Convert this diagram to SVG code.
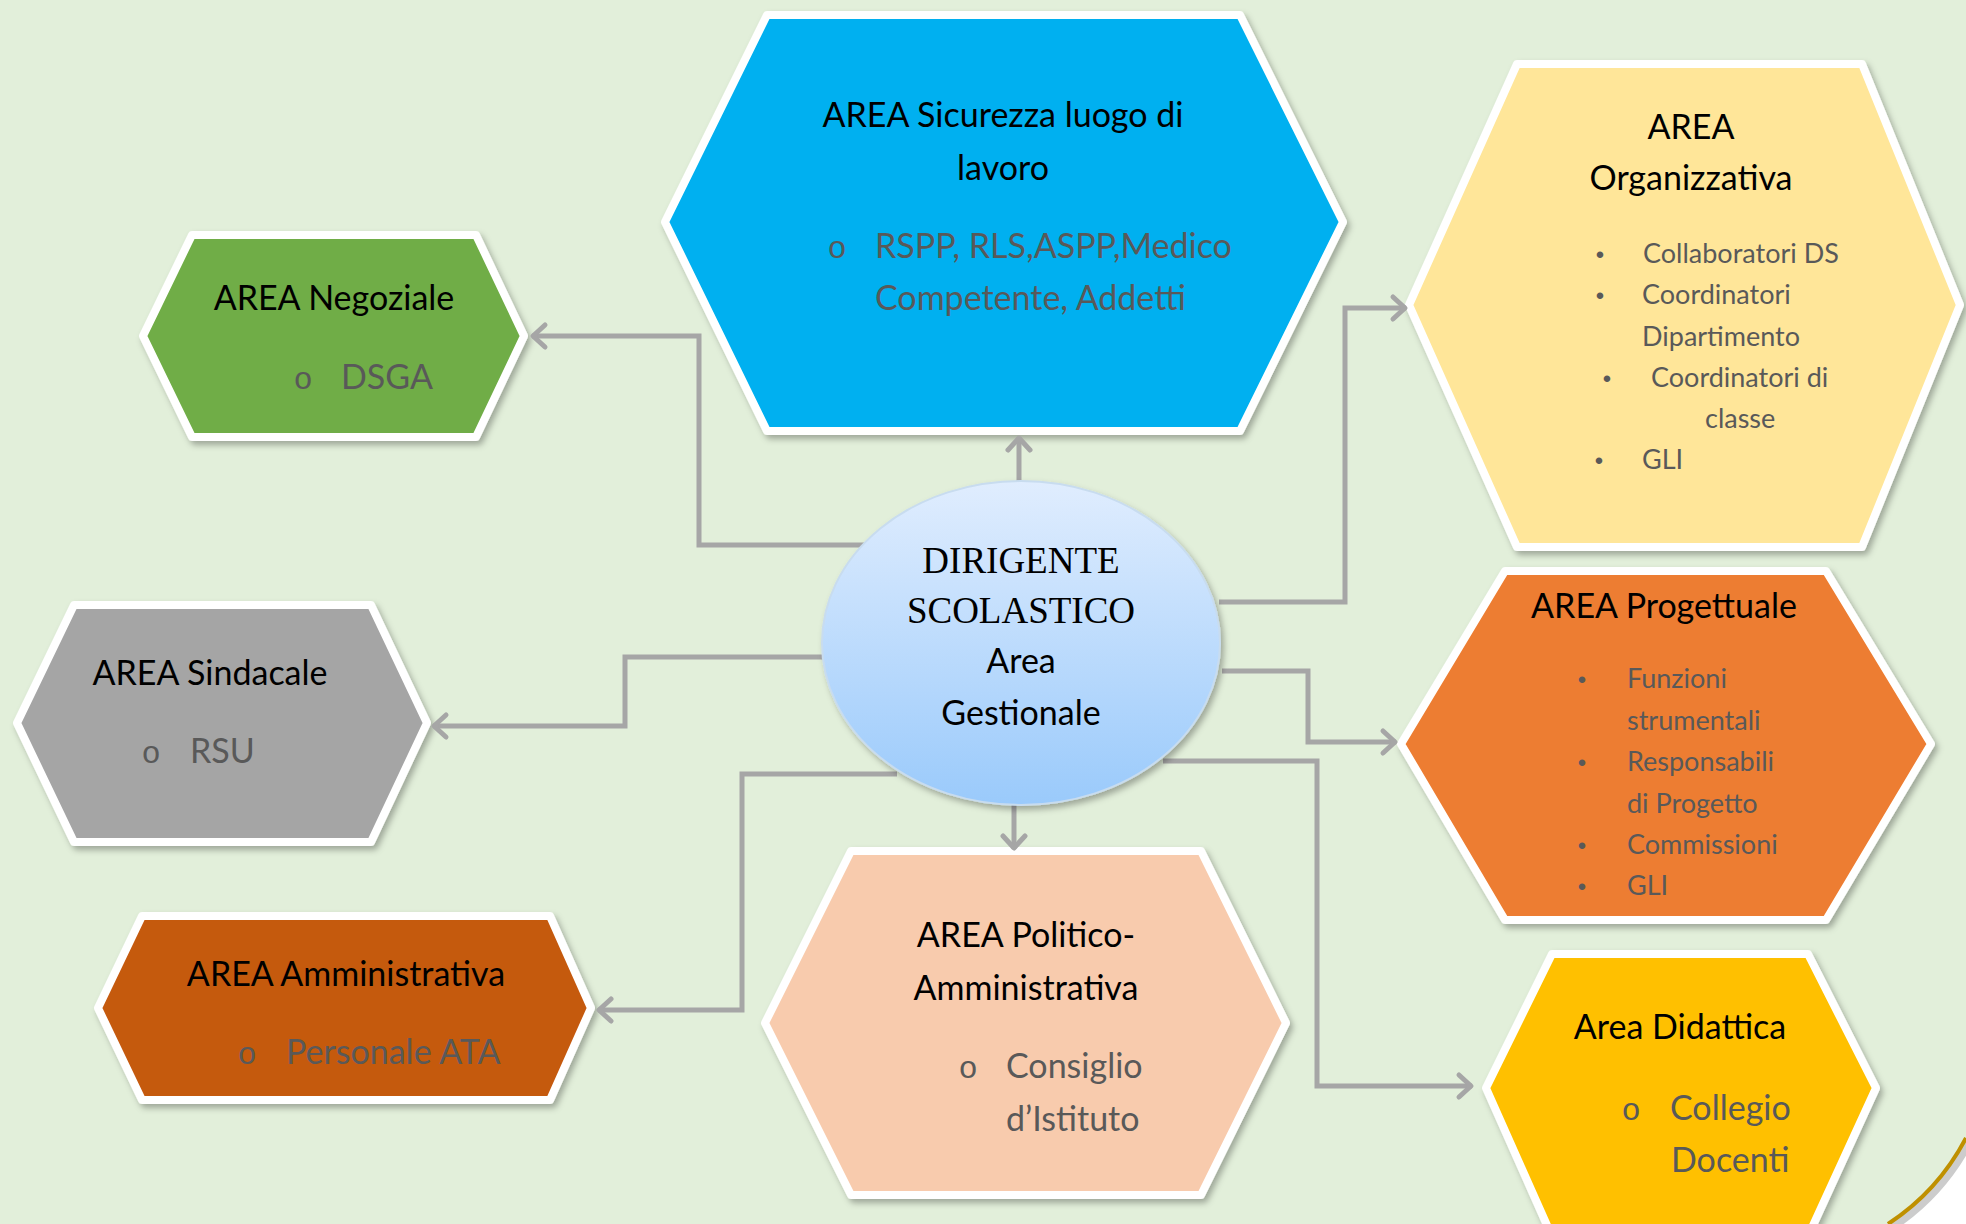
<svg xmlns="http://www.w3.org/2000/svg" width="1966" height="1224" viewBox="0 0 1966 1224">
<defs>
<style>
.hex{stroke:#FFFFFF;stroke-width:8;stroke-linejoin:round;filter:url(#sh)}
.t{font-family:Lato,"Liberation Sans",sans-serif;font-size:34px;fill:#000000}
.s{font-family:Lato,"Liberation Sans",sans-serif;font-size:34px;fill:#595959}
.l{font-family:Lato,"Liberation Sans",sans-serif;font-size:27px;fill:#595959}
.o{font-family:"Liberation Mono",monospace;font-size:32px;fill:#595959}
.b{font-family:"Liberation Sans",sans-serif;font-size:24px;fill:#595959}
.serif{font-family:"Liberation Serif",serif;font-size:37px;fill:#000000}
.c{text-anchor:middle}
.con{fill:none;stroke:#A6A6A6;stroke-width:5;marker-end:url(#arr)}
</style>
<filter id="sh" x="-10%" y="-10%" width="125%" height="125%">
<feDropShadow dx="3" dy="4" stdDeviation="3" flood-color="#000000" flood-opacity="0.3"/>
</filter>
<linearGradient id="eg" x1="0" y1="0" x2="0" y2="1">
<stop offset="0" stop-color="#E0EDFE"/>
<stop offset="1" stop-color="#9ACAFB"/>
</linearGradient>
<marker id="arr" markerUnits="userSpaceOnUse" markerWidth="40" markerHeight="40" viewBox="-20 -20 40 40" refX="0" refY="0" orient="auto" overflow="visible">
<path d="M-13,-11 L-1,0 L-13,11" fill="none" stroke="#A6A6A6" stroke-width="5" stroke-linecap="round" stroke-linejoin="round"/>
</marker>
</defs>
<rect x="0" y="0" width="1966" height="1224" fill="#E2EFDA"/>
<g id="page-corner">
<path d="M1966,1138 A230,230 0 0 1 1888,1224 L1966,1224 Z" fill="#FFFFFF"/>
<path d="M1968,1143 A230,230 0 0 1 1893,1226" fill="none" stroke="#808080" stroke-opacity="0.4" stroke-width="9"/>
<path d="M1966,1138 A230,230 0 0 1 1888,1224" fill="none" stroke="#BF9000" stroke-width="4"/>
</g>
<g id="area-sicurezza">
<polygon class="hex" fill="#00B0F0" points="767,15 1240,15 1343,222 1240,431 767,431 665,222"/>
<text class="t c" x="1003" y="127">AREA Sicurezza luogo di</text>
<text class="t c" x="1003" y="180">lavoro</text>
<text class="o c" x="837" y="258">o</text>
<text class="s" x="875" y="258">RSPP, RLS,ASPP,Medico</text>
<text class="s" x="875" y="310">Competente, Addetti</text>
</g>
<g id="area-negoziale">
<polygon class="hex" fill="#70AD47" points="192,235 476,235 524,336 476,437 192,437 143,336"/>
<text class="t c" x="334" y="310">AREA Negoziale</text>
<text class="o c" x="303" y="389">o</text>
<text class="s" x="341" y="389">DSGA</text>
</g>
<g id="area-sindacale">
<polygon class="hex" fill="#A5A5A5" points="74,605 371,605 427,723 371,842 74,842 17,723"/>
<text class="t c" x="210" y="685">AREA Sindacale</text>
<text class="o c" x="151" y="763">o</text>
<text class="s" x="190" y="763">RSU</text>
</g>
<g id="area-amministrativa">
<polygon class="hex" fill="#C55A11" points="142,916 550,916 591,1008 550,1100 142,1100 98,1008"/>
<text class="t c" x="346" y="986">AREA Amministrativa</text>
<text class="o c" x="247" y="1064">o</text>
<text class="s" x="286" y="1064">Personale ATA</text>
</g>
<g id="area-politico-amministrativa">
<polygon class="hex" fill="#F8CBAD" points="851,851 1201,851 1286,1023 1201,1195 851,1195 765,1023"/>
<text class="t c" x="1026" y="947">AREA Politico-</text>
<text class="t c" x="1026" y="1000">Amministrativa</text>
<text class="o c" x="968" y="1078">o</text>
<text class="s" x="1006" y="1078">Consiglio</text>
<text class="s" x="1006" y="1131">d’Istituto</text>
</g>
<g id="area-organizzativa">
<polygon class="hex" fill="#FFE699" points="1517,64 1862,64 1960,305 1862,547 1517,547 1409,305"/>
<text class="t c" x="1691" y="139">AREA</text>
<text class="t c" x="1691" y="190">Organizzativa</text>
<text class="b c" x="1600" y="263">•</text>
<text class="l" x="1643" y="263">Collaboratori DS</text>
<text class="b c" x="1600" y="304">•</text>
<text class="l" x="1642" y="304">Coordinatori</text>
<text class="l" x="1642" y="346">Dipartimento</text>
<text class="b c" x="1607" y="387">•</text>
<text class="l" x="1651" y="387">Coordinatori di</text>
<text class="l" x="1705" y="428">classe</text>
<text class="b c" x="1599" y="469">•</text>
<text class="l" x="1642" y="469">GLI</text>
</g>
<g id="area-progettuale">
<polygon class="hex" fill="#ED7D31" points="1505,571 1826,571 1931,744 1826,920 1505,920 1401,744"/>
<text class="t c" x="1664" y="618">AREA Progettuale</text>
<text class="b c" x="1582" y="688">•</text>
<text class="l" x="1627" y="688">Funzioni</text>
<text class="l" x="1627" y="730">strumentali</text>
<text class="b c" x="1582" y="771">•</text>
<text class="l" x="1627" y="771">Responsabili</text>
<text class="l" x="1627" y="813">di Progetto</text>
<text class="b c" x="1582" y="854">•</text>
<text class="l" x="1627" y="854">Commissioni</text>
<text class="b c" x="1582" y="895">•</text>
<text class="l" x="1627" y="895">GLI</text>
</g>
<g id="area-didattica">
<polygon class="hex" fill="#FFC000" points="1552,954 1808,954 1876,1088 1810,1232 1550,1232 1486,1088"/>
<text class="t c" x="1680" y="1039">Area Didattica</text>
<text class="o c" x="1631" y="1120">o</text>
<text class="s" x="1670" y="1120">Collegio</text>
<text class="s" x="1671" y="1172">Docenti</text>
</g>
<g id="connectors">
<path class="con" d="M1019,481 L1019,437"/>
<path class="con" d="M867,545 L699,545 L699,336 L532,336"/>
<path class="con" d="M824,657 L625,657 L625,726 L433,726"/>
<path class="con" d="M897,774 L742,774 L742,1010 L598,1010"/>
<path class="con" d="M1014,804 L1014,849"/>
<path class="con" d="M1219,602 L1345,602 L1345,308 L1406,308"/>
<path class="con" d="M1222,671 L1308,671 L1308,742 L1396,742"/>
<path class="con" d="M1163,761 L1317,761 L1317,1086 L1472,1086"/>
</g>
<g id="dirigente">
<ellipse cx="1021" cy="643" rx="199" ry="162" fill="url(#eg)" stroke="#C8DCEF" stroke-width="2" filter="url(#sh)"/>
<text class="serif c" x="1021" y="573">DIRIGENTE</text>
<text class="serif c" x="1021" y="623">SCOLASTICO</text>
<text class="t c" x="1021" y="673">Area</text>
<text class="t c" x="1021" y="725">Gestionale</text>
</g>
</svg>
